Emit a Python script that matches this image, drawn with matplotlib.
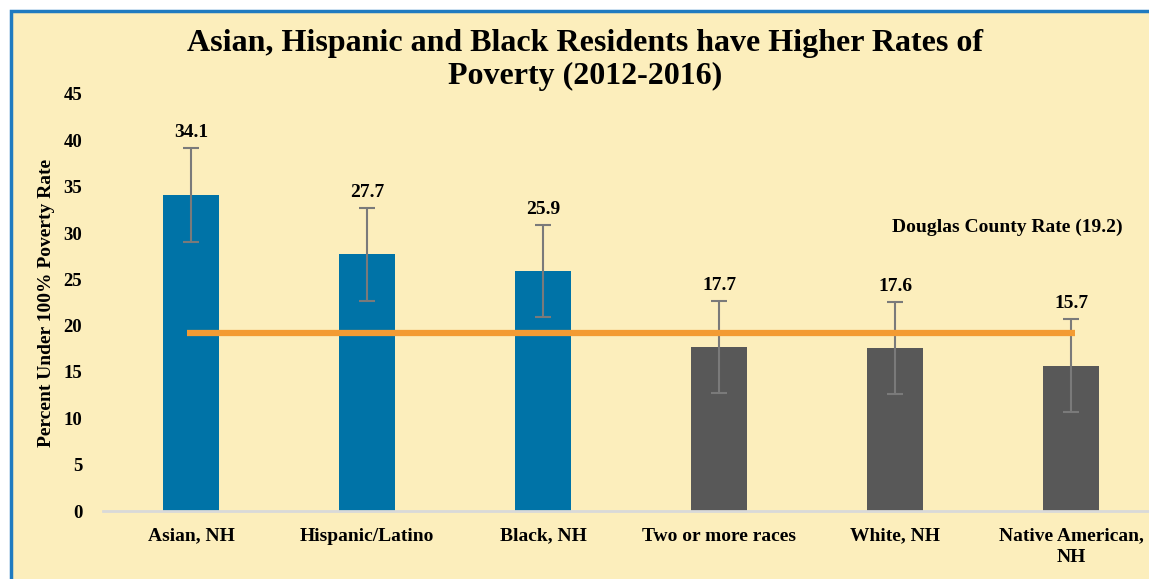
import matplotlib.pyplot as plt
import matplotlib.patches as mpatches
import numpy as np

# Data
categories = ["Asian, NH", "Hispanic/Latino", "Black, NH", "Two or more races",
              "White, NH", "Native American,\nNH"]
poverty = [34.1, 27.7, 25.9, 17.7, 17.6, 15.7]
errors = [5.1, 5.0, 5.0, 5.0, 5.0, 5.0]
county_rate = 19.2

BG = "#FCEEBC"
BLUE = "#0073A7"
GRAY = "#585858"

plt.rcParams["font.family"] = ["Liberation Serif", "DejaVu Serif"]
plt.rcParams["font.weight"] = "bold"

fig = plt.figure(figsize=(11.49, 5.79), dpi=100)
fig.patch.set_facecolor("white")

# Panel background with blue frame
frame = mpatches.Rectangle((10.5 / 1149, -0.1), 1.2, (579 - 10.5) / 579 + 0.1,
                           transform=fig.transFigure, facecolor=BG,
                           edgecolor="#1F7BC0", linewidth=2.5, zorder=-10)
fig.patches.append(frame)

ax = fig.add_axes([103 / 1149, 1 - 511 / 579, 1056 / 1149, 417 / 579])
ax.set_facecolor("none")
ax.set_zorder(5)

x = np.arange(len(categories))
colors = [BLUE] * 3 + [GRAY] * 3
ax.bar(x, poverty, width=0.32, color=colors, zorder=2)
ax.errorbar(x, poverty, yerr=errors, fmt="none", ecolor="#7A7A7A",
            elinewidth=1.5, capsize=6, capthick=1.5, zorder=3)

# County line
ax.plot([x[0] - 0.02, x[-1] + 0.02], [county_rate, county_rate],
        color="#F39B33", linewidth=4.5, solid_capstyle="butt", zorder=4)
ax.text(4.64, 30.6, "Douglas County Rate (19.2)", ha="center", va="center",
        fontsize=14, fontweight="bold")

# Value labels
for xi, v, e in zip(x, poverty, errors):
    ax.annotate(f"{v:.1f}", (xi, v + e), xytext=(0, 5), textcoords="offset points",
                ha="center", va="bottom", fontsize=14, fontweight="bold")

### Beautification ###
ax.set_xlim(-0.5, 5.5)
ax.set_ylim(0, 45)
ax.set_yticks(range(0, 50, 5))
ax.set_xticks(x)
ax.set_xticklabels(categories, fontsize=14, fontweight="bold", linespacing=1.3)
ax.tick_params(axis="both", length=0)
ax.tick_params(axis="y", labelsize=13.5, pad=15)
ax.tick_params(axis="x", pad=12)
for s in ["top", "right", "left"]:
    ax.spines[s].set_visible(False)
ax.spines["bottom"].set_color("#D9D9D9")
ax.spines["bottom"].set_linewidth(2)
ax.set_ylabel("Percent Under 100% Poverty Rate", fontsize=14, fontweight="bold",
              labelpad=6)

fig.text(585 / 1149, 1 - 60 / 579,
         "Asian, Hispanic and Black Residents have Higher Rates of\nPoverty (2012-2016)",
         ha="center", va="center", fontsize=23, fontweight="bold", linespacing=1.15)

fig.savefig("out.png", dpi=100, facecolor=fig.get_facecolor())
